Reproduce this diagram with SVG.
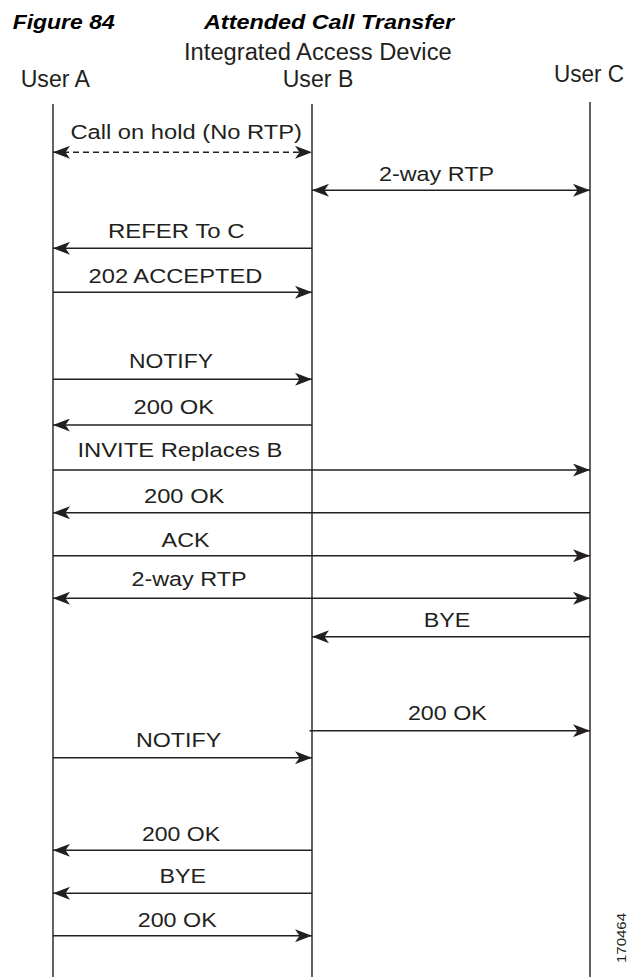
<svg xmlns="http://www.w3.org/2000/svg" width="629" height="977" viewBox="0 0 629 977">
<defs>
<marker id="ah" viewBox="0 0 17 13" refX="17" refY="6.5" markerWidth="17" markerHeight="13" markerUnits="userSpaceOnUse" orient="auto-start-reverse">
<path d="M0,0 L17,6.5 L0,13 L4.5,6.5 Z" fill="#231f20"/>
</marker>
</defs>
<style>
text{font-family:"Liberation Sans",Arial,sans-serif;fill:#231f20}
.lbl{font-size:20.5px}
.hdr{font-size:23px}
.ttl{font-size:20px;font-weight:bold;font-style:italic;fill:#000}
.life{stroke:#3a3a3a;stroke-width:1.6;fill:none}
.msg{stroke:#231f20;stroke-width:1.4;fill:none;marker-end:url(#ah)}
.both{marker-start:url(#ah)}
.dash{stroke-dasharray:6,4}
</style>
<rect width="629" height="977" fill="#fff"/>
<g id="title">
<text class="ttl" x="12.7" y="29.3" textLength="102" lengthAdjust="spacingAndGlyphs">Figure 84</text>
<text class="ttl" x="204" y="29.3" textLength="250" lengthAdjust="spacingAndGlyphs">Attended Call Transfer</text>
</g>
<g id="userA"><text class="hdr" x="20.7" y="87.3" textLength="69.3" lengthAdjust="spacingAndGlyphs">User A</text><line class="life" x1="53" y1="104" x2="53" y2="977"/></g>
<g id="userB"><text class="hdr" x="184" y="60" textLength="267.7" lengthAdjust="spacingAndGlyphs">Integrated Access Device</text><text class="hdr" x="282.7" y="87.3" textLength="70.6" lengthAdjust="spacingAndGlyphs">User B</text><line class="life" x1="312" y1="104" x2="312" y2="977"/></g>
<g id="userC"><text class="hdr" x="554" y="81.7" textLength="70" lengthAdjust="spacingAndGlyphs">User C</text><line class="life" x1="590" y1="102" x2="590" y2="977"/></g>
<g id="connectors">
<line class="msg both dash" x1="53" y1="152.3" x2="312" y2="152.3"/>
<line class="msg both" x1="312" y1="190.3" x2="590" y2="190.3"/>
<line class="msg" x1="312" y1="248.3" x2="53" y2="248.3"/>
<line class="msg" x1="53" y1="292.3" x2="312" y2="292.3"/>
<line class="msg" x1="53" y1="379.3" x2="312" y2="379.3"/>
<line class="msg" x1="312" y1="425" x2="53" y2="425"/>
<line class="msg" x1="53" y1="470" x2="590" y2="470"/>
<line class="msg" x1="590" y1="512.7" x2="53" y2="512.7"/>
<line class="msg" x1="53" y1="555.7" x2="590" y2="555.7"/>
<line class="msg both" x1="53" y1="598.3" x2="590" y2="598.3"/>
<line class="msg" x1="590" y1="636.7" x2="312" y2="636.7"/>
<line class="msg" x1="309.5" y1="730.7" x2="590" y2="730.7"/>
<line class="msg" x1="53" y1="757.7" x2="312" y2="757.7"/>
<line class="msg" x1="312" y1="850.3" x2="53" y2="850.3"/>
<line class="msg" x1="312" y1="893.3" x2="53" y2="893.3"/>
<line class="msg" x1="53" y1="935.7" x2="312" y2="935.7"/>
</g>
<g id="labels">
<text class="lbl" x="70.4" y="139.3" textLength="231.6" lengthAdjust="spacingAndGlyphs">Call on hold (No RTP)</text>
<text class="lbl" x="379" y="180.7" textLength="115" lengthAdjust="spacingAndGlyphs">2-way RTP</text>
<text class="lbl" x="107.9" y="238.3" textLength="136.8" lengthAdjust="spacingAndGlyphs">REFER To C</text>
<text class="lbl" x="88.6" y="283.3" textLength="173.7" lengthAdjust="spacingAndGlyphs">202 ACCEPTED</text>
<text class="lbl" x="129" y="368.3" textLength="84" lengthAdjust="spacingAndGlyphs">NOTIFY</text>
<text class="lbl" x="133.5" y="414.3" textLength="80.7" lengthAdjust="spacingAndGlyphs">200 OK</text>
<text class="lbl" x="77.4" y="457.3" textLength="204.9" lengthAdjust="spacingAndGlyphs">INVITE Replaces B</text>
<text class="lbl" x="144" y="502.7" textLength="80.4" lengthAdjust="spacingAndGlyphs">200 OK</text>
<text class="lbl" x="161.6" y="546.7" textLength="48" lengthAdjust="spacingAndGlyphs">ACK</text>
<text class="lbl" x="131.4" y="586" textLength="115.1" lengthAdjust="spacingAndGlyphs">2-way RTP</text>
<text class="lbl" x="423.7" y="626.7" textLength="46.7" lengthAdjust="spacingAndGlyphs">BYE</text>
<text class="lbl" x="407.9" y="720" textLength="78.9" lengthAdjust="spacingAndGlyphs">200 OK</text>
<text class="lbl" x="136" y="747.3" textLength="85.2" lengthAdjust="spacingAndGlyphs">NOTIFY</text>
<text class="lbl" x="141.9" y="841" textLength="78.3" lengthAdjust="spacingAndGlyphs">200 OK</text>
<text class="lbl" x="159.5" y="883.3" textLength="46.6" lengthAdjust="spacingAndGlyphs">BYE</text>
<text class="lbl" x="137.7" y="926.7" textLength="79" lengthAdjust="spacingAndGlyphs">200 OK</text>
</g>
<text x="0" y="0" font-size="13" textLength="50" lengthAdjust="spacingAndGlyphs" transform="translate(626,963) rotate(-90)">170464</text>
</svg>
